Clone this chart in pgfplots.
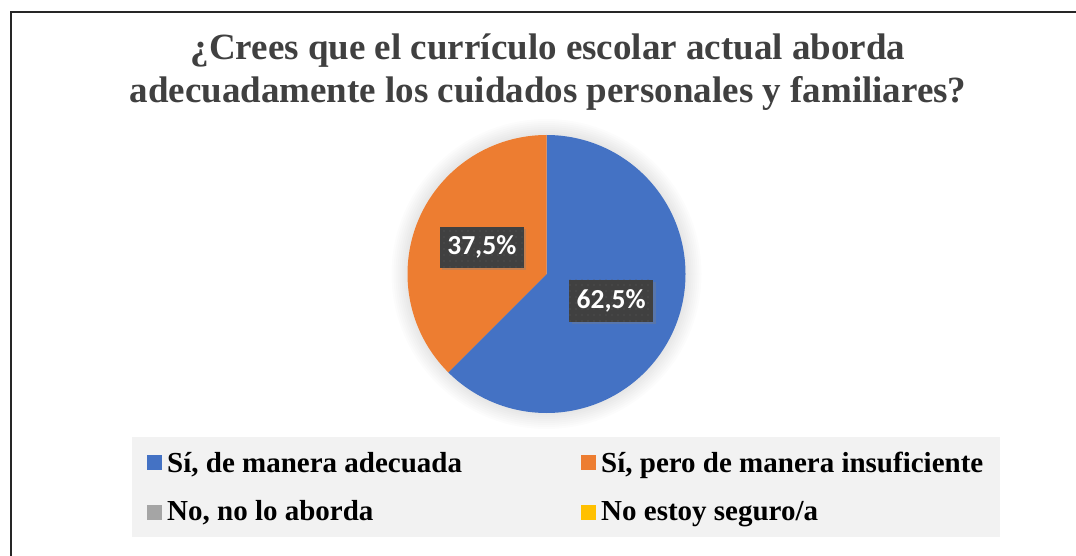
\documentclass[border=0pt]{standalone}
\usepackage{pgfplots}
\pgfplotsset{compat=1.18}
\usepackage{pgfplotstable}
\usepackage{fontspec}
\setmainfont{Liberation Serif}
\newfontfamily\carlito{Carlito}
\usetikzlibrary{shadows,patterns.meta}
\definecolor{cblue}{HTML}{4472C4}
\definecolor{corange}{HTML}{ED7D31}
\definecolor{cgray}{HTML}{A5A5A5}
\definecolor{cyellow}{HTML}{FFC000}
\definecolor{titlegray}{HTML}{404040}
\definecolor{legbg}{HTML}{F2F2F2}
\definecolor{lblbg}{HTML}{404040}
\definecolor{lbldot}{HTML}{5A5A5A}

\pgfplotstableread{
idx value
1 62.5
2 37.5
3 0
4 0
}\piedata
\pgfplotstablegetelem{0}{value}\of\piedata \global\let\va\pgfplotsretval
\pgfplotstablegetelem{1}{value}\of\piedata \global\let\vb\pgfplotsretval

\begin{document}
\begin{tikzpicture}
\begin{axis}[width=1076pt,height=555pt,scale only axis,
  xmin=0,xmax=1076,ymin=0,ymax=555,hide axis,clip=false,
  /pgf/number format/assume math mode=true]
\coordinate (BL) at (axis cs:0,0);
\coordinate (TR) at (axis cs:1076,555);
% frame
\draw[line width=1.6pt, black!85] (axis cs:11,-5) -- (axis cs:11,543) -- (axis cs:1085,543);
% title
\node[anchor=base, inner sep=0pt, font=\fontsize{37}{43}\selectfont\bfseries, text=titlegray]
  at (axis cs:548,495) {¿Crees que el currículo escolar actual aborda};
\node[anchor=base, inner sep=0pt, font=\fontsize{37}{43}\selectfont\bfseries, text=titlegray]
  at (axis cs:548,452) {adecuadamente los cuidados personales y familiares?};
% pie soft shadow
\pgfplotsinvokeforeach{2,4,...,16}{
  \fill[black,opacity=0.012] (axis cs:546.5,281) circle[radius={139pt+#1pt}];
}
% slices
\fill[cblue] (axis cs:546.5,281) -- ++(90:139pt)
  arc[start angle=90, end angle={90-3.6*\va}, radius=139pt] -- cycle;
\fill[corange] (axis cs:546.5,281) -- ++({90-3.6*\va}:139pt)
  arc[start angle={90-3.6*\va}, end angle={90-3.6*(\va+\vb)}, radius=139pt] -- cycle;
% data labels
\path (axis cs:546.5,281) ++({90-1.8*\va}:70pt) node[fill=lblbg, text=white,
  font=\carlito\bfseries\fontsize{27.5}{32}\selectfont, minimum width=84pt, minimum height=42pt,
  inner sep=0pt, drop shadow={shadow xshift=2.5pt, shadow yshift=-2.5pt, opacity=0.35},
  postaction={pattern={Dots[distance=6pt,radius=0.7pt]}, pattern color=lbldot}]
  {\pgfmathprintnumber[fixed,precision=1,fixed zerofill,use comma]{\va}\%};
\path (axis cs:546.5,281) ++({90-3.6*\va-1.8*\vb}:70pt) node[fill=lblbg, text=white,
  font=\carlito\bfseries\fontsize{27.5}{32}\selectfont, minimum width=84pt, minimum height=41pt,
  inner sep=0pt, drop shadow={shadow xshift=2.5pt, shadow yshift=-2.5pt, opacity=0.35},
  postaction={pattern={Dots[distance=6pt,radius=0.7pt]}, pattern color=lbldot}]
  {\pgfmathprintnumber[fixed,precision=1,fixed zerofill,use comma]{\vb}\%};
% legend
\fill[legbg] (axis cs:132,18) rectangle (axis cs:1000,118);
\fill[cblue]   (axis cs:147,85) rectangle (axis cs:162,100);
\fill[corange] (axis cs:581,85) rectangle (axis cs:596,100);
\fill[cgray]   (axis cs:147,35) rectangle (axis cs:162,50);
\fill[cyellow] (axis cs:581,35) rectangle (axis cs:596,50);
\node[anchor=base west, inner sep=0pt, font=\fontsize{29}{34}\selectfont\bfseries] at (axis cs:167,83) {Sí, de manera adecuada};
\node[anchor=base west, inner sep=0pt, font=\fontsize{29}{34}\selectfont\bfseries] at (axis cs:601,83) {Sí, pero de manera insuficiente};
\node[anchor=base west, inner sep=0pt, font=\fontsize{29}{34}\selectfont\bfseries] at (axis cs:167,35) {No, no lo aborda};
\node[anchor=base west, inner sep=0pt, font=\fontsize{29}{34}\selectfont\bfseries] at (axis cs:601,35) {No estoy seguro/a};
\end{axis}
\pgfresetboundingbox
\useasboundingbox (BL) rectangle (TR);
\end{tikzpicture}
\end{document}
